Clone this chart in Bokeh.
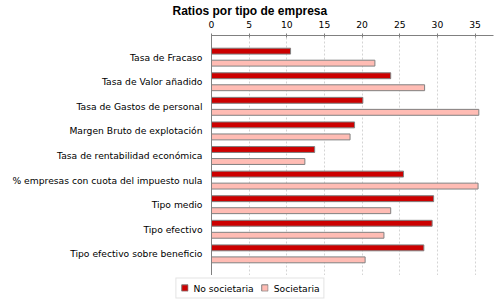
from bokeh.plotting import figure
from bokeh.layouts import column, row
from bokeh.models import FactorRange, Range1d, Legend, LegendItem, FixedTicker, ColumnDataSource
from bokeh.transform import dodge
from bokeh.embed import file_html
from bokeh.resources import INLINE

categories = [
    "Tasa de Fracaso",
    "Tasa de Valor añadido",
    "Tasa de Gastos de personal",
    "Margen Bruto de explotación",
    "Tasa de rentabilidad económica",
    "% empresas con cuota del impuesto nula",
    "Tipo medio",
    "Tipo efectivo",
    "Tipo efectivo sobre beneficio",
]
no_societaria = [10.5, 23.8, 20.1, 19.0, 13.7, 25.5, 29.5, 29.3, 28.2]
societaria = [21.7, 28.3, 35.5, 18.4, 12.4, 35.4, 23.8, 22.9, 20.4]
x_ticks = [0, 5, 10, 15, 20, 25, 30, 35]
series_names = ["No societaria", "Societaria"]
series_colors = ["#cc0000", "#ffbcb4"]

FONT = "DejaVu Sans"
LBL = "9.2px"
EDGE = "#808080"

source = ColumnDataSource(dict(cat=categories, a=no_societaria, b=societaria))

p = figure(
    width=500, height=275,
    y_range=FactorRange(factors=categories[::-1], range_padding=0.0845),
    x_range=Range1d(0, 37.45),
    x_axis_location="above",
    output_backend="svg", toolbar_location=None,
    min_border_left=211, min_border_right=7, min_border_top=35, min_border_bottom=0,
    title="Ratios por tipo de empresa",
)
p.outline_line_color = None
p.background_fill_color = "white"
p.border_fill_color = "white"

p.title.text_font = "Liberation Sans"
p.title.text_font_size = "12px"
p.title.text_font_style = "bold"
p.title.text_color = "#000000"
p.title.align = "left"
p.title.offset = -39
p.title.standoff = 0

p.hbar(y=dodge("cat", 0.244, range=p.y_range), right="a", left=0, height=0.24,
       source=source, fill_color=series_colors[0], line_color=EDGE, line_width=1)
p.hbar(y=dodge("cat", -0.244, range=p.y_range), right="b", left=0, height=0.24,
       source=source, fill_color=series_colors[1], line_color=EDGE, line_width=1)

xa = p.xaxis[0]
xa.ticker = FixedTicker(ticks=x_ticks)
xa.axis_line_color = EDGE
xa.major_tick_line_color = EDGE
xa.major_tick_out = 2
xa.major_tick_in = 2
xa.minor_tick_line_color = None
xa.major_label_text_font = FONT
xa.major_label_text_font_size = LBL
xa.major_label_text_color = "#000000"
xa.major_label_standoff = 6

ya = p.yaxis[0]
ya.axis_line_color = EDGE
ya.major_tick_line_color = None
ya.minor_tick_line_color = None
ya.major_label_text_font = FONT
ya.major_label_text_font_size = LBL
ya.major_label_text_color = "#000000"
ya.major_label_standoff = 3

p.ygrid.grid_line_color = None
p.xgrid.grid_line_color = "#d4d4d4"
p.xgrid.grid_line_dash = "2 2"

# legend strip below the chart, spanning the full width so the legend is centred on the page
lg = figure(
    width=500, height=25,
    x_range=Range1d(-2, -1), y_range=FactorRange(factors=categories[::-1]),
    x_axis_type=None, y_axis_type=None,
    output_backend="svg", toolbar_location=None,
    min_border_left=0, min_border_right=0, min_border_top=0, min_border_bottom=0,
)
lg.grid.visible = False
lg.outline_line_color = None
lg.background_fill_color = "white"
lg.border_fill_color = "white"
items = []
for name, col, field in zip(series_names, series_colors, ["a", "b"]):
    # same data, out of this strip's view: only its legend swatch shows
    rr = lg.hbar(y="cat", right=field, left=0, height=0.5, source=source,
                 fill_color=col, line_color=EDGE, line_width=1)
    items.append(LegendItem(label=name, renderers=[rr]))

legend = Legend(
    items=items, orientation="horizontal", location="center",
    label_text_font=FONT, label_text_font_size=LBL, label_text_color="#000000",
    label_height=10, glyph_height=8, glyph_width=8, label_standoff=5, spacing=7,
    padding=4, margin=0, border_line_color="#c8c8c8", border_line_width=1,
    background_fill_color="white",
)
lg.add_layout(legend, "center")

layout = column(p, row(lg, spacing=0), spacing=0)
open("out.html", "w").write(file_html(layout, INLINE))
